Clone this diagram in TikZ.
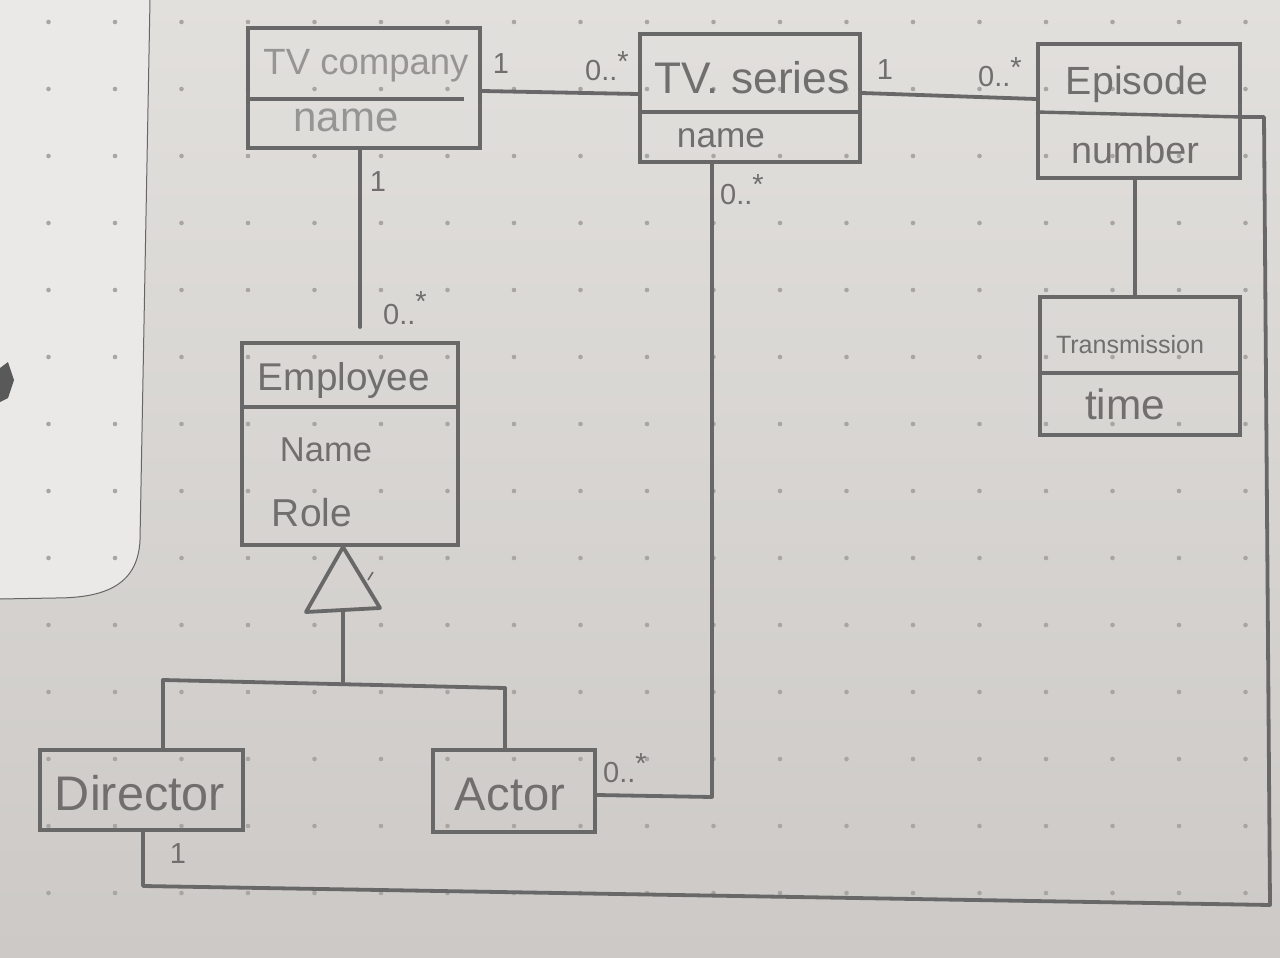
\documentclass[tikz,border=0pt]{standalone}
\usepackage{fontspec}
\setmainfont{Liberation Sans}
\usepackage{graphicx}
\definecolor{paperA}{RGB}{226,224,221}
\definecolor{paperB}{RGB}{204,201,199}
\definecolor{cardc}{RGB}{234,233,231}
\definecolor{dotc}{RGB}{168,165,162}
\definecolor{pencil}{RGB}{105,104,104}
\definecolor{ink}{RGB}{112,111,110}
\definecolor{lightink}{RGB}{150,149,148}
\newcommand{\hw}[2]{\resizebox{#1pt}{!}{#2}}
\tikzset{
  cls/.style={draw=pencil, line width=4pt, rectangle, inner sep=0pt},
  divl/.style={draw=pencil, line width=3.4pt},
  conn/.style={draw=pencil, line width=3.8pt, line cap=round, line join=round},
  txt/.style={text=ink, inner sep=0pt},
  ltxt/.style={text=lightink, inner sep=0pt},
  mult/.style={text=ink, inner sep=0pt, font=\fontsize{29}{31}\selectfont},
}
\begin{document}
\begin{tikzpicture}[x=1pt,y=-1pt]
% paper
\shade[top color=paperA, bottom color=paperB] (0,0) rectangle (1280,958);
\useasboundingbox (0,0) rectangle (1280,958);
% card on the left
\fill[cardc] (0,0) -- (150,0) -- (140,540) .. controls (138,588) and (100,598) .. (55,598) -- (0,598) -- cycle;
\draw[black!60, line width=1pt] (150,0) -- (140,540) .. controls (138,588) and (100,598) .. (55,598) -- (0,599);
\fill[black!65] (0,368) -- (8,362) -- (14,380) -- (8,398) -- (0,402) -- cycle;
% dots
\foreach \i in {-11,...,7}{
  \foreach \j in {-3,...,10}{
    \fill[dotc] ({780+66.5*\i},{223+67*\j}) circle (2.3);
  }
}

% classes
\node[cls, minimum width=232pt, minimum height=120pt] (tvc) at (364,88) {};
\node[cls, minimum width=220pt, minimum height=127pt] (tvs) at (750,98) {};
\node[cls, minimum width=202pt, minimum height=133pt] (ep) at (1139,111) {};
\node[cls, minimum width=200pt, minimum height=138pt] (tr) at (1140,366) {};
\node[cls, minimum width=216pt, minimum height=202pt] (emp) at (350,444) {};
\node[cls, minimum width=203pt, minimum height=80pt] (dir) at (141,790) {};
\node[cls, minimum width=162pt, minimum height=82pt] (act) at (514,791) {};

% dividers
\draw[divl] (tvc.west |- 0,99) -- (464,99);
\draw[divl] (tvs.west |- 0,112) -- (tvs.east |- 0,112);
\draw[divl] (ep.west |- 0,112) -- (ep.east |- 0,117);
\draw[divl] (tr.west |- 0,373) -- (tr.east |- 0,373);
\draw[divl] (emp.west |- 0,407) -- (emp.east |- 0,407);

% texts
\node[ltxt] (tvc-n) at (366,66) {\hw{205}{TV company}};
\node[ltxt] (tvc-a) at (346,120) {\hw{105}{name}};
\node[txt] (tvs-n) at (752,78) {\hw{195}{TV. series}};
\node[txt] (tvs-a) at (721,138) {\hw{88}{name}};
\node[txt] (ep-n) at (1137,84) {\hw{142}{Episode}};
\node[txt] (ep-a) at (1135,150) {\hw{128}{number}};
\node[txt] (tr-n) at (1130,345) {\hw{148}{Transmission}};
\node[txt] (tr-a) at (1125,404) {\hw{80}{time}};
\node[txt] (emp-n) at (344,380) {\hw{172}{Employee}};
\node[txt] (emp-a1) at (326,450) {\hw{92}{Name}};
\node[txt] (emp-a2) at (312,513) {\hw{80}{Role}};
\node[txt] (dir-n) at (140,793) {\hw{170}{Director}};
\node[txt] (act-n) at (510,795) {\hw{110}{Actor}};

% helper coordinates
\coordinate (empTop) at (360,327);
\coordinate (gen) at (343,610);
\coordinate (barL) at (163,680);
\coordinate (barR) at (505,688);
\coordinate (loopA) at (1264,117);
\coordinate (loopB) at (1270,905);
\coordinate (loopC) at (143,886);

% associations
\draw[conn] (tvc.east |- 0,91) -- (tvs.west |- 0,94);
\draw[conn] (tvs.east |- 0,93) -- (ep.west |- 0,99);
\draw[conn] (tvc.south -| empTop) -- (empTop);
\draw[conn] (tvs.south -| 712,0) -- (712,797) -- (act.east |- 0,795);
\draw[conn] (ep.south -| 1135,0) -- (tr.north -| 1135,0);
\draw[conn] (ep.east |- 0,117) -- (loopA) -- (loopB) -- (loopC) -- (dir.south -| loopC);

% generalization
\draw[conn] (emp.south -| gen) -- (380,608) -- (306,612) -- cycle;
\draw[conn] (gen) -- (343,682);
\draw[conn] (barL) -- (barR);
\draw[conn] (barL) -- (dir.north -| barL);
\draw[conn] (barR) -- (act.north -| barR);
\draw[pencil, line width=1.5pt] (368,580) -- (373,572);

% multiplicities
\node[mult] (m1) at (501,64) {1};
\node[mult] (m2) at (607,66) {0..\raisebox{9pt}{*}};
\node[mult] (m3) at (885,70) {1};
\node[mult] (m4) at (1000,72) {0..\raisebox{9pt}{*}};
\node[mult] (m5) at (378,182) {1};
\node[mult] (m6) at (405,308) {0..\raisebox{13pt}{*}};
\node[mult] (m7) at (742,190) {0..\raisebox{10pt}{*}};
\node[mult] (m8) at (625,768) {0..\raisebox{9pt}{*}};
\node[mult] (m9) at (178,854) {1};
\end{tikzpicture}
\end{document}
